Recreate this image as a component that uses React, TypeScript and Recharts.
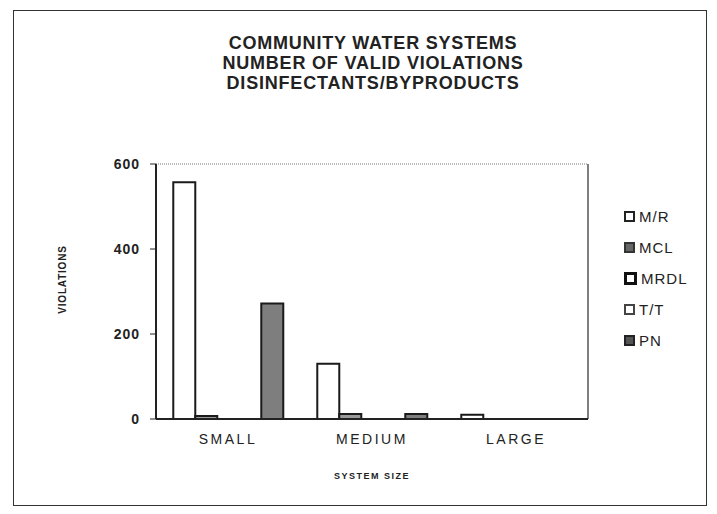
import React from "react";
import {
  Bar,
  BarChart,
  CartesianGrid,
  ReferenceLine,
  XAxis,
  YAxis,
} from "recharts";

const categories = ["SMALL", "MEDIUM", "LARGE"];
const mrValues = [557, 130, 10];
const mclValues = [7, 12, 0];
const mrdlValues = [0, 0, 0];
const ttValues = [0, 0, 0];
const pnValues = [272, 12, 0];
const yTicks = [0, 200, 400, 600];

const series = [
  { key: "M/R", values: mrValues, fill: "#ffffff", dash: undefined },
  { key: "MCL", values: mclValues, fill: "#9a9a9a", dash: undefined },
  { key: "MRDL", values: mrdlValues, fill: "#ffffff", dash: undefined },
  { key: "T/T", values: ttValues, fill: "#ffffff", dash: "2 2" },
  { key: "PN", values: pnValues, fill: "#7e7e7e", dash: undefined },
];

const legendSwatch: Record<string, React.CSSProperties> = {
  "M/R": { background: "#fff", border: "2px solid #222" },
  MCL: { background: "#666", border: "2px solid #333" },
  MRDL: { background: "#fff", border: "3px solid #111" },
  "T/T": { background: "#fff", border: "2px dashed #444" },
  PN: { background: "#555", border: "2px solid #222" },
};

const data = categories.map((size, i) => {
  const row: Record<string, string | number> = { size };
  series.forEach((s) => {
    row[s.key] = s.values[i];
  });
  return row;
});

const FONT = "Arial, 'Liberation Sans', sans-serif";

export default function App() {
  return (
    <div
      style={{
        position: "absolute",
        left: 0,
        top: 0,
        width: 717,
        height: 514,
        background: "#fff",
        fontFamily: FONT,
        color: "#222",
      }}
    >
      <div
        style={{
          position: "absolute",
          left: 13,
          top: 10,
          width: 692,
          height: 494,
          border: "1.5px solid #333",
        }}
      />
      <div
        style={{
          position: "absolute",
          left: 0,
          width: 746,
          top: 33,
          textAlign: "center",
          fontSize: 18,
          fontWeight: "bold",
          lineHeight: "20px",
          letterSpacing: 0.8,
        }}
      >
        <div>COMMUNITY WATER SYSTEMS</div>
        <div>NUMBER OF VALID VIOLATIONS</div>
        <div>DISINFECTANTS/BYPRODUCTS</div>
      </div>

      <BarChart
        width={717}
        height={514}
        data={data}
        margin={{ top: 164, right: 129, bottom: 0, left: 0 }}
        barCategoryGap="12%"
        barGap={0}
        style={{ position: "absolute", left: 0, top: 0 }}
      >
        <CartesianGrid
          horizontal={false}
          stroke="#555"
          strokeWidth={1.5}
          verticalCoordinatesGenerator={({ offset }: any) => [
            offset.left + offset.width,
          ]}
        />
        <ReferenceLine y={600} stroke="#777" strokeDasharray="1 1" />
        <XAxis
          dataKey="size"
          height={95}
          interval={0}
          axisLine={{ stroke: "#222", strokeWidth: 2 }}
          tickLine={false}
          tickSize={8}
          tickMargin={7}
          tick={{
            fill: "#222",
            fontSize: 14,
            fontFamily: FONT,
            letterSpacing: 2.5,
          }}
          label={{
            content: ({ viewBox }: any) => (
              <text
                x={viewBox.x + viewBox.width / 2}
                y={viewBox.y + 60}
                textAnchor="middle"
                fontSize={9}
                fontWeight="bold"
                letterSpacing={1.5}
                fontFamily={FONT}
                fill="#222"
              >
                SYSTEM SIZE
              </text>
            ),
          }}
        />
        <YAxis
          width={156}
          domain={[0, 600]}
          ticks={yTicks}
          axisLine={{ stroke: "#222", strokeWidth: 2 }}
          tickLine={{ stroke: "#222" }}
          tickSize={6}
          tickMargin={10}
          tick={{
            fill: "#222",
            fontSize: 14,
            fontWeight: "bold",
            fontFamily: FONT,
            letterSpacing: 1,
          }}
          label={{
            content: ({ viewBox }: any) => {
              const cx = viewBox.x + 63;
              const cy = viewBox.y + viewBox.height / 2 - 12;
              return (
                <text
                  x={cx}
                  y={cy}
                  transform={`rotate(-90 ${cx} ${cy})`}
                  textAnchor="middle"
                  dominantBaseline="middle"
                  fontSize={10}
                  fontWeight="bold"
                  letterSpacing={0.8}
                  fontFamily={FONT}
                  fill="#222"
                >
                  VIOLATIONS
                </text>
              );
            },
          }}
        />
        {series.map((s) => (
          <Bar
            key={s.key}
            dataKey={s.key}
            fill={s.fill}
            stroke="#1a1a1a"
            strokeWidth={2}
            strokeDasharray={s.dash}
            isAnimationActive={false}
          />
        ))}
      </BarChart>

      <div style={{ position: "absolute", left: 624, top: 201 }}>
        {series.map((s) => (
          <div
            key={s.key}
            style={{
              display: "flex",
              alignItems: "center",
              height: 31,
              fontSize: 15,
              letterSpacing: 1,
            }}
          >
            <span
              style={{
                display: "inline-block",
                width: 7,
                height: 7,
                marginRight: 4,
                ...legendSwatch[s.key],
              }}
            />
            {s.key}
          </div>
        ))}
      </div>
    </div>
  );
}
